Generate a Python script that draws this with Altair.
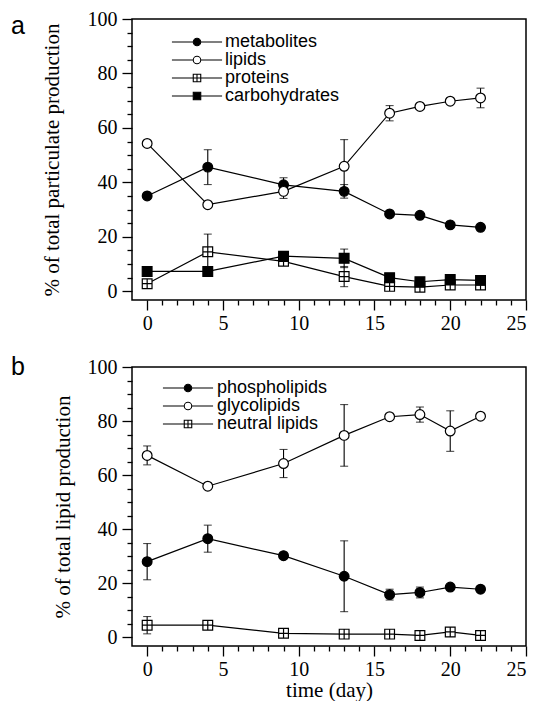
import altair as alt
import pandas as pd

# ---------------- data ----------------
days = [0, 4, 9, 13, 16, 18, 20, 22]

# panel a : % of total particulate production
metabolites = [35.0, 45.6, 39.1, 36.7, 28.4, 27.9, 24.4, 23.5]
metabolites_err = [None, 6.4, 2.6, 2.5, None, None, None, None]
lipids = [54.3, 31.8, 36.7, 45.9, 65.4, 67.9, 69.8, 71.0]
lipids_err = [None, None, 2.6, 9.8, 2.8, None, None, 3.6]
proteins = [2.8, 14.5, 11.0, 5.4, 1.8, 1.5, 2.3, 2.3]
proteins_err = [None, 6.5, None, 3.7, None, None, None, None]
carbohydrates = [7.3, 7.3, 12.9, 12.1, 5.0, 3.5, 4.3, 4.0]
carbohydrates_err = [None, None, None, 3.4, None, None, None, None]

# panel b : % of total lipid production
phospholipids = [28.0, 36.5, 30.2, 22.6, 15.8, 16.6, 18.6, 17.8]
phospholipids_err = [6.7, 5.0, None, 13.1, 2.0, 2.0, None, None]
glycolipids = [67.3, 55.9, 64.3, 74.7, 81.6, 82.4, 76.3, 81.8]
glycolipids_err = [3.5, None, 5.2, 11.4, None, 2.8, 7.5, None]
neutral_lipids = [4.5, 4.5, 1.5, 1.2, 1.2, 0.7, 2.0, 0.7]
neutral_lipids_err = [3.2, None, None, None, None, None, 1.5, None]

x_major = [0, 5, 10, 15, 20, 25]
x_minor = [v for v in range(1, 25) if v % 5]
y_major = [0, 20, 40, 60, 80, 100]
y_minor = [5, 10, 15, 25, 30, 35, 45, 50, 55, 65, 70, 75, 85, 90, 95]

# ---------------- symbols ----------------
CIRCLE = "M1,0A1,1 0 1,1 -1,0A1,1 0 1,1 1,0Z"
SQUARE = "M-1,-1H1V1H-1Z"
XSQUARE = "M-1,-1H1V1H-1Z M0,-1V1 M-1,0H1"
LEG = "M-6.7,0H-1 M1,0H6.7 "


def frame(names, vals, errs):
    rows = []
    for n, v, e in zip(names, vals, errs):
        for d, yv, ev in zip(days, v, e):
            rows.append({"series": n, "day": d, "value": yv,
                         "lo": None if ev is None else yv - ev,
                         "hi": None if ev is None else yv + ev})
    return pd.DataFrame(rows)


SERIF = "Liberation Serif"
SANS = "Liberation Sans"
XS = alt.Scale(domain=[-1, 25], nice=False, zero=False)
YS = alt.Scale(domain=[-3.2, 100], nice=False, zero=False)
AX = dict(labelFont=SERIF, labelFontSize=20, labelColor="black",
          titleFont=SERIF, titleFontSize=21, titleFontWeight="normal",
          titleColor="black", tickColor="black", tickWidth=1.3,
          grid=False, domain=False)


def panel(df, names, shapes, fills, ylab, letter, letter_dy, tpad, lx, ly, loff, xtitle, h):
    base = alt.Chart(df)
    xmaj = alt.Axis(values=x_major, tickSize=10, labelPadding=3, orient="bottom",
                    title=xtitle, titlePadding=0, format="d", **AX)
    ymaj = alt.Axis(values=y_major, tickSize=10, labelPadding=5, orient="left",
                    title=ylab, titlePadding=tpad, format="d", **AX)
    xmin = alt.Axis(values=x_minor, tickSize=5, labels=False, orient="bottom", title=None, **AX)
    ymin = alt.Axis(values=y_minor, tickSize=5, labels=False, orient="left", title=None, **AX)

    err = base.transform_filter("isValid(datum.lo)")
    rules = err.mark_rule(color="black", strokeWidth=1.1).encode(
        x=alt.X("day:Q", scale=XS, axis=xmin),
        y=alt.Y("lo:Q", scale=YS, axis=ymin),
        y2="hi:Q",
    )
    cap_lo = err.mark_tick(orient="horizontal", size=8, thickness=1.1, color="black").encode(
        x=alt.X("day:Q", scale=XS, axis=None), y=alt.Y("lo:Q", scale=YS, axis=None))
    cap_hi = err.mark_tick(orient="horizontal", size=8, thickness=1.1, color="black").encode(
        x=alt.X("day:Q", scale=XS, axis=None), y=alt.Y("hi:Q", scale=YS, axis=None))
    lines = base.mark_line(color="black", strokeWidth=1.2).encode(
        x=alt.X("day:Q", scale=XS, axis=xmaj),
        y=alt.Y("value:Q", scale=YS, axis=ymaj),
        detail="series:N",
    )
    pts = base.mark_point(filled=True, size=95, stroke="black", strokeWidth=1.2, opacity=1).encode(
        x=alt.X("day:Q", scale=XS, axis=None),
        y=alt.Y("value:Q", scale=YS, axis=None),
        shape=alt.Shape("series:N", scale=alt.Scale(domain=names, range=shapes), legend=None),
        fill=alt.Fill("series:N", scale=alt.Scale(domain=names, range=fills), legend=None),
    )
    leg = alt.Legend(orient="none", legendX=lx, legendY=ly, title=None,
                     symbolSize=56, symbolStrokeWidth=1.1, symbolOffset=25,
                     labelOffset=loff, labelFont=SANS, labelFontSize=18,
                     labelColor="black", rowPadding=0, padding=0, labelLimit=400)
    legend_layer = base.transform_filter("false").mark_point(
        filled=True, stroke="black", strokeWidth=1.1, opacity=1).encode(
        x=alt.X("day:Q", scale=XS, axis=None),
        y=alt.Y("value:Q", scale=YS, axis=None),
        shape=alt.Shape("series:N", scale=alt.Scale(domain=names, range=[LEG + s for s in shapes]), legend=leg),
        fill=alt.Fill("series:N", scale=alt.Scale(domain=names, range=fills), legend=leg),
    )
    return alt.layer(rules, cap_lo, cap_hi, lines, pts, legend_layer).resolve_scale(
        shape="independent", fill="independent"
    ).resolve_axis(x="independent", y="independent").properties(
        width=394, height=h,
        title=alt.TitleParams(letter, anchor="start", frame="group", orient="none",
                              font=SANS, fontSize=25, fontWeight="normal", color="black",
                              baseline="alphabetic", dx=-121, dy=letter_dy),
    )


names_a = ["metabolites", "lipids", "proteins", "carbohydrates"]
names_b = ["phospholipids", "glycolipids", "neutral lipids"]
df_a = frame(names_a, [metabolites, lipids, proteins, carbohydrates],
             [metabolites_err, lipids_err, proteins_err, carbohydrates_err])
df_b = frame(names_b, [phospholipids, glycolipids, neutral_lipids],
             [phospholipids_err, glycolipids_err, neutral_lipids_err])

pa = panel(df_a, names_a, [CIRCLE, CIRCLE, XSQUARE, SQUARE], ["black", "white", "white", "black"],
           "% of total particulate production", "a", 15, 25, 31, 14, 19, None, 281)
pb = panel(df_b, names_b, [CIRCLE, CIRCLE, XSQUARE], ["black", "white", "white"],
           "% of total lipid production", "b", 8, 14, 22, 12, 20, "time (day)", 279)

chart = alt.vconcat(pa, pb, spacing=20).properties(
    padding={"left": 10, "top": 8, "right": 0, "bottom": 0},
    background="white",
).configure_view(stroke="black", strokeWidth=1.5).configure_axis(**AX)

chart.save("out.html", embed_options={"renderer": "svg", "actions": False})
